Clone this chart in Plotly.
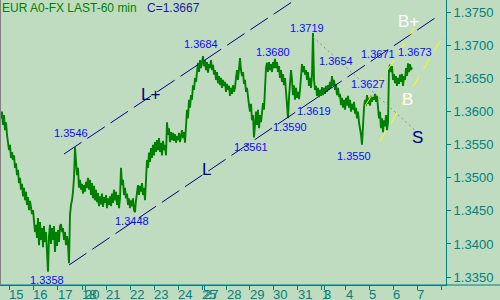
import plotly.graph_objects as go

# ---------------- data ----------------
close = [
    1.3590, 1.3600, 1.3580, 1.3595, 1.3572, 1.3584, 1.3565, 1.3554, 1.3542, 1.3550,
    1.3530, 1.3539, 1.3527, 1.3534, 1.3515, 1.3522, 1.3504, 1.3512, 1.3492, 1.3500,
    1.3482, 1.3491, 1.3472, 1.3485, 1.3466, 1.3479, 1.3459, 1.3471, 1.3451, 1.3465,
    1.3454, 1.3445, 1.3451, 1.3433, 1.3418, 1.3429, 1.3409, 1.3439, 1.3398, 1.3433,
    1.3406, 1.3424, 1.3395, 1.3427, 1.3403, 1.3418, 1.3391, 1.3358, 1.3412, 1.3429,
    1.3400, 1.3424, 1.3406, 1.3427, 1.3388, 1.3418, 1.3397, 1.3421, 1.3403, 1.3427,
    1.3430, 1.3418, 1.3424, 1.3406, 1.3418, 1.3398, 1.3412, 1.3400, 1.3371, 1.3444,
    1.3459, 1.3466, 1.3479, 1.3500, 1.3546, 1.3519, 1.3504, 1.3515, 1.3485, 1.3497,
    1.3482, 1.3491, 1.3476, 1.3489, 1.3479, 1.3494, 1.3485, 1.3500, 1.3482, 1.3497,
    1.3474, 1.3492, 1.3469, 1.3488, 1.3466, 1.3482, 1.3463, 1.3477, 1.3457, 1.3472,
    1.3460, 1.3476, 1.3456, 1.3471, 1.3462, 1.3474, 1.3454, 1.3469, 1.3459, 1.3472,
    1.3457, 1.3476, 1.3462, 1.3482, 1.3466, 1.3479, 1.3459, 1.3474, 1.3454, 1.3469,
    1.3515, 1.3489, 1.3497, 1.3474, 1.3485, 1.3469, 1.3476, 1.3459, 1.3469, 1.3454,
    1.3466, 1.3457, 1.3469, 1.3451, 1.3448, 1.3466, 1.3482, 1.3489, 1.3474, 1.3488,
    1.3479, 1.3492, 1.3474, 1.3485, 1.3466, 1.3497, 1.3527, 1.3515, 1.3538, 1.3524,
    1.3545, 1.3530, 1.3550, 1.3534, 1.3554, 1.3539, 1.3557, 1.3542, 1.3560, 1.3539,
    1.3553, 1.3534, 1.3556, 1.3542, 1.3550, 1.3534, 1.3584, 1.3565, 1.3575, 1.3554,
    1.3569, 1.3557, 1.3568, 1.3556, 1.3566, 1.3553, 1.3563, 1.3557, 1.3568, 1.3554,
    1.3565, 1.3572, 1.3560, 1.3569, 1.3553, 1.3575, 1.3603, 1.3590, 1.3618, 1.3606,
    1.3625, 1.3618, 1.3640, 1.3633, 1.3651, 1.3645, 1.3666, 1.3674, 1.3660, 1.3678,
    1.3666, 1.3675, 1.3684, 1.3669, 1.3678, 1.3663, 1.3675, 1.3659, 1.3672, 1.3666,
    1.3678, 1.3663, 1.3671, 1.3656, 1.3663, 1.3648, 1.3660, 1.3643, 1.3654, 1.3640,
    1.3651, 1.3636, 1.3648, 1.3639, 1.3645, 1.3630, 1.3642, 1.3633, 1.3639, 1.3624,
    1.3636, 1.3627, 1.3640, 1.3630, 1.3636, 1.3651, 1.3663, 1.3648, 1.3669, 1.3681,
    1.3663, 1.3654, 1.3660, 1.3642, 1.3648, 1.3630, 1.3636, 1.3618, 1.3610, 1.3600,
    1.3612, 1.3587, 1.3595, 1.3561, 1.3590, 1.3600, 1.3580, 1.3603, 1.3575, 1.3595,
    1.3584, 1.3606, 1.3613, 1.3603, 1.3640, 1.3666, 1.3674, 1.3660, 1.3675, 1.3663,
    1.3672, 1.3660, 1.3675, 1.3666, 1.3680, 1.3666, 1.3675, 1.3660, 1.3669, 1.3651,
    1.3663, 1.3645, 1.3657, 1.3640, 1.3651, 1.3625, 1.3610, 1.3590, 1.3621, 1.3640,
    1.3663, 1.3648, 1.3625, 1.3640, 1.3618, 1.3636, 1.3621, 1.3630, 1.3619, 1.3633,
    1.3663, 1.3672, 1.3660, 1.3669, 1.3656, 1.3663, 1.3648, 1.3660, 1.3639, 1.3651,
    1.3636, 1.3656, 1.3719, 1.3648, 1.3633, 1.3639, 1.3624, 1.3636, 1.3622, 1.3633,
    1.3624, 1.3637, 1.3625, 1.3636, 1.3627, 1.3639, 1.3630, 1.3640, 1.3633, 1.3645,
    1.3636, 1.3654, 1.3639, 1.3648, 1.3633, 1.3642, 1.3625, 1.3636, 1.3622, 1.3627,
    1.3610, 1.3621, 1.3606, 1.3618, 1.3603, 1.3621, 1.3609, 1.3624, 1.3606, 1.3618,
    1.3600, 1.3612, 1.3603, 1.3615, 1.3597, 1.3606, 1.3590, 1.3600, 1.3584, 1.3575,
    1.3565, 1.3550, 1.3587, 1.3606, 1.3618, 1.3609, 1.3625, 1.3612, 1.3621, 1.3609,
    1.3624, 1.3615, 1.3622, 1.3618, 1.3627, 1.3615, 1.3624, 1.3603, 1.3590, 1.3600,
    1.3575, 1.3590, 1.3569, 1.3587, 1.3578, 1.3595, 1.3572, 1.3584, 1.3663, 1.3671,
    1.3660, 1.3669, 1.3648, 1.3657, 1.3643, 1.3654, 1.3639, 1.3651, 1.3642, 1.3656,
    1.3645, 1.3657, 1.3639, 1.3654, 1.3648, 1.3666, 1.3654, 1.3673, 1.3660, 1.3672,
    1.3663, 1.3667,
]
bars = list(range(1, len(close) + 1))
last_close = close[-1]

# day boundaries (bar index) and their labels
day_ticks = [9.3, 33.3, 57.7, 82.3, 85.0, 106.0, 130.0, 154.0, 178.3, 202.3, 204.3,
             226.7, 249.5, 273.3, 297.7, 321.7, 324.0, 345.7, 369.3, 393.3, 417.3, 441.3]
day_labels = ["15", "16", "17", "18", "20", "21", "22", "23", "24", "25", "27",
              "28", "29", "30", "31", "1", "3", "4", "5", "6", "7", ""]

price_ticks = [1.3350, 1.3400, 1.3450, 1.3500, 1.3550, 1.3600, 1.3650, 1.3700, 1.3750]

# marked pivots
pivot_bars = [203, 75, 48, 135, 254, 288, 299, 362, 375, 332, 313, 275, 390, 408]
pivot_prices = [1.3684, 1.3546, 1.3358, 1.3448, 1.3561, 1.3590, 1.3619, 1.3550,
                1.3627, 1.3654, 1.3719, 1.3680, 1.3671, 1.3673]

# trend lines (bar, price) end points
lplus_bars = [64, 300]
lplus_prices = [1.35360, 1.37740]
l_bars = [69, 438]
l_prices = [1.33681, 1.37447]
s_bars = [313, 418]
s_prices = [1.37129, 1.35678]
b1_bars = [365, 414]
b1_prices = [1.36086, 1.37266]
b2_bars = [380, 446]
b2_prices = [1.35557, 1.37205]

# line names and anchors
line_names = ["L+", "L", "B+", "B", "S"]
line_name_bars = [150.5, 206.5, 408.5, 407.0, 417.0]
line_name_prices = [1.36260, 1.35133, 1.37371, 1.36184, 1.35610]

# ---------------- style ----------------
BG = "#c0dcc0"
TEAL = "#008080"
GREEN = "#008000"
BLUE = "#0a0aff"
NAVY = "#000080"
FONT = "Liberation Sans, Arial, sans-serif"

PW, PH = 446, 285  # plot area size in px

# label offsets (px) relative to pivot: (dx, dy up)
pivot_offsets = [(-2.5, 12), (-4.5, 14), (-1, -8), (-3, -8.5), (-3, -10), (2, -9),
                 (15, -12), (-8, -11), (-7, 10), (4, 14.5), (-6, 5.5), (-2, 7),
                 (-12.5, 10.7), (7, 11.4)]
name_styles = [NAVY, NAVY, "white", "white", NAVY]

fig = go.Figure()

fig.add_trace(go.Scatter(x=bars, y=close, mode="lines",
                         line=dict(color=GREEN, width=1.9), hoverinfo="skip"))

for bx, py, col, dash in [
    (lplus_bars, lplus_prices, NAVY, "21px,7px"),
    (l_bars, l_prices, NAVY, "21px,7px"),
    (s_bars, s_prices, "#8a8a8a", "2px,3px"),
    (b1_bars, b1_prices, "#ffff00", "12px,9px"),
    (b2_bars, b2_prices, "#ffff00", "12px,9px"),
]:
    fig.add_trace(go.Scatter(x=bx, y=py, mode="lines",
                             line=dict(color=col, width=1, dash=dash), hoverinfo="skip"))

annotations = []
for b, p, (dx, dy) in zip(pivot_bars, pivot_prices, pivot_offsets):
    annotations.append(dict(x=b, y=p, xref="x", yref="y", text=f"{p:.4f}",
                            showarrow=False, xanchor="center", yanchor="middle",
                            xshift=dx, yshift=dy, borderpad=0, borderwidth=0,
                            font=dict(family=FONT, size=11, color=BLUE)))

for name, b, p, col in zip(line_names, line_name_bars, line_name_prices, name_styles):
    annotations.append(dict(x=b, y=p, xref="x", yref="y", text=name, showarrow=False,
                            xanchor="center", yanchor="middle", borderpad=0, borderwidth=0,
                            font=dict(family=FONT, size=17, color=col)))

for t, lab in zip(day_ticks, day_labels):
    if lab:
        annotations.append(dict(x=t, y=-9.5 / PH, xref="x", yref="paper", text=lab,
                                showarrow=False, xanchor="left", yanchor="middle",
                                borderpad=0, borderwidth=0,
                                font=dict(family=FONT, size=13, color=TEAL)))

annotations.append(dict(x=1.8 / PW, y=1 - 8.5 / PH, xref="paper", yref="paper",
                        text="EUR A0-FX LAST-60 min", showarrow=False,
                        xanchor="left", yanchor="middle", borderpad=0, borderwidth=0,
                        font=dict(family=FONT, size=12, color=GREEN)))
annotations.append(dict(x=147.4 / PW, y=1 - 8.5 / PH, xref="paper", yref="paper",
                        text=f"C={last_close:.4f}", showarrow=False,
                        xanchor="left", yanchor="middle", borderpad=0, borderwidth=0,
                        font=dict(family=FONT, size=12, color="#1a1a9a")))

shapes = [
    dict(type="line", xref="paper", yref="paper", x0=0, x1=500 / PW, y0=0, y1=0,
         line=dict(color=TEAL, width=1)),
    dict(type="line", xref="paper", yref="paper", x0=0.5 / PW, x1=0.5 / PW, y0=0, y1=1,
         line=dict(color="#808080", width=1)),
]

fig.update_layout(
    width=500, height=300,
    margin=dict(l=0, r=500 - PW, t=0, b=300 - PH, pad=0),
    paper_bgcolor=BG, plot_bgcolor=BG,
    showlegend=False,
    annotations=annotations,
    shapes=shapes,
    xaxis=dict(range=[0, PW], showgrid=False, zeroline=False,
               tickvals=day_ticks, ticktext=[""] * len(day_ticks),
               ticks="outside", ticklen=4, tickcolor=TEAL, tickwidth=1,
               showline=True, linecolor=TEAL, linewidth=1, showticklabels=False),
    yaxis=dict(range=[1.33379, 1.37689], side="right", showgrid=False, zeroline=False,
               tickvals=price_ticks, ticktext=[f"{v:.4f}" for v in price_ticks],
               ticks="outside", ticklen=4, tickcolor=TEAL, tickwidth=1,
               showline=True, linecolor=TEAL, linewidth=1, ticklabelstandoff=0,
               tickfont=dict(family=FONT, size=13, color=TEAL)),
)

fig.write_html("out.html", config={"displayModeBar": False})
